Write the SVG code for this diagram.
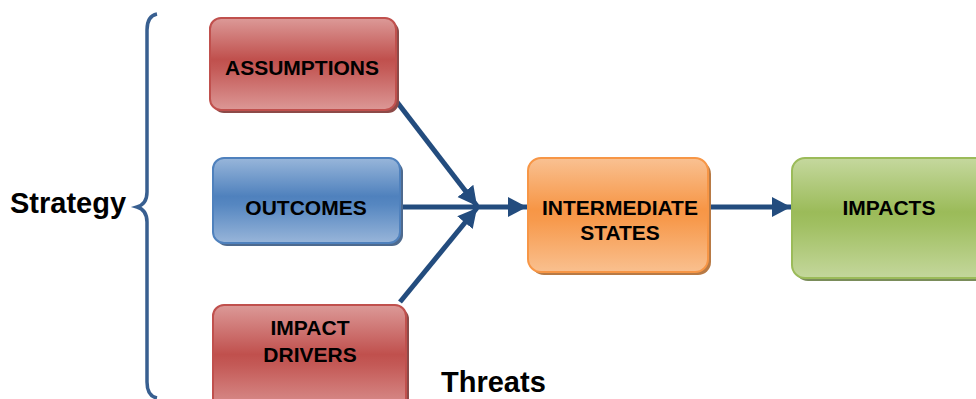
<svg xmlns="http://www.w3.org/2000/svg" width="976" height="399" viewBox="0 0 976 399">
<defs>
<style>
.lbl{font-family:"Liberation Sans",Arial,sans-serif;font-weight:bold;font-size:21px;fill:#000;text-anchor:middle}
.big{font-family:"Liberation Sans",Arial,sans-serif;font-weight:bold;font-size:29px;fill:#000}
.conn{stroke:#234c7e;stroke-width:5;fill:none}
</style>
<linearGradient id="gRed" x1="0" y1="0" x2="0" y2="1">
<stop offset="0" stop-color="#dc9a98"/><stop offset="0.45" stop-color="#c0504d"/><stop offset="0.55" stop-color="#c45a57"/><stop offset="1" stop-color="#dc9896"/>
</linearGradient>
<linearGradient id="gBlue" x1="0" y1="0" x2="0" y2="1">
<stop offset="0" stop-color="#98b6da"/><stop offset="0.45" stop-color="#4f81bd"/><stop offset="0.55" stop-color="#5687c1"/><stop offset="1" stop-color="#98b5d9"/>
</linearGradient>
<linearGradient id="gOrange" x1="0" y1="0" x2="0" y2="1">
<stop offset="0" stop-color="#f9c192"/><stop offset="0.45" stop-color="#f79646"/><stop offset="0.55" stop-color="#f79a4d"/><stop offset="1" stop-color="#f9c08f"/>
</linearGradient>
<linearGradient id="gGreen" x1="0" y1="0" x2="0" y2="1">
<stop offset="0" stop-color="#c5d89e"/><stop offset="0.45" stop-color="#9bbb59"/><stop offset="0.55" stop-color="#a0bf61"/><stop offset="1" stop-color="#c4d79c"/>
</linearGradient>
<marker id="arr" markerUnits="userSpaceOnUse" markerWidth="22" markerHeight="22" refX="19" refY="10" orient="auto">
<path d="M0,0 L19,10 L0,20 Z" fill="#234c7e"/>
</marker>
</defs>

<g id="brace">
<path d="M157,14 Q147,16 147,30 L147,192 Q147,204 137,207 Q147,210 147,222 L147,382 Q147,396 157,398" fill="none" stroke="#385f90" stroke-width="3.5"/>
<text class="big" x="10" y="213">Strategy</text>
</g>

<g id="connectors">
<line class="conn" x1="397" y1="102" x2="477" y2="206" marker-end="url(#arr)"/>
<line class="conn" x1="400" y1="302" x2="477" y2="208" marker-end="url(#arr)"/>
<line class="conn" x1="400" y1="207" x2="478" y2="207"/>
<line class="conn" x1="476" y1="207" x2="527" y2="207" marker-end="url(#arr)"/>
<line class="conn" x1="711" y1="207" x2="791" y2="207" marker-end="url(#arr)"/>
</g>

<g id="assumptions">
<rect x="213" y="21" width="186" height="92" rx="11" fill="#8d4a48"/>
<rect x="210" y="18" width="186" height="92" rx="11" fill="url(#gRed)" stroke="#c0504d" stroke-width="2"/>
<text class="lbl" x="302" y="75">ASSUMPTIONS</text>
</g>

<g id="outcomes">
<rect x="216" y="161" width="187" height="85" rx="11" fill="#4e6a8e"/>
<rect x="213" y="158" width="187" height="85" rx="11" fill="url(#gBlue)" stroke="#4f81bd" stroke-width="2"/>
<text class="lbl" x="306" y="215">OUTCOMES</text>
</g>

<g id="impact-drivers">
<rect x="216" y="308" width="193" height="110" rx="11" fill="#8d4a48"/>
<rect x="213" y="305" width="193" height="110" rx="11" fill="url(#gRed)" stroke="#c0504d" stroke-width="2"/>
<text class="lbl" x="310" y="335">IMPACT</text>
<text class="lbl" x="310" y="362">DRIVERS</text>
</g>

<g id="intermediate-states">
<rect x="531" y="161" width="180" height="114" rx="13" fill="#b87a45"/>
<rect x="528" y="158" width="180" height="114" rx="13" fill="url(#gOrange)" stroke="#f79646" stroke-width="2"/>
<text class="lbl" x="620" y="215">INTERMEDIATE</text>
<text class="lbl" x="620" y="240">STATES</text>
</g>

<g id="impacts">
<rect x="795" y="161" width="200" height="120" rx="13" fill="#7a8c5a"/>
<rect x="792" y="158" width="200" height="120" rx="13" fill="url(#gGreen)" stroke="#9bbb59" stroke-width="2"/>
<text class="lbl" x="889" y="215">IMPACTS</text>
</g>

<g id="threats">
<text class="big" x="441" y="392">Threats</text>
</g>
</svg>
